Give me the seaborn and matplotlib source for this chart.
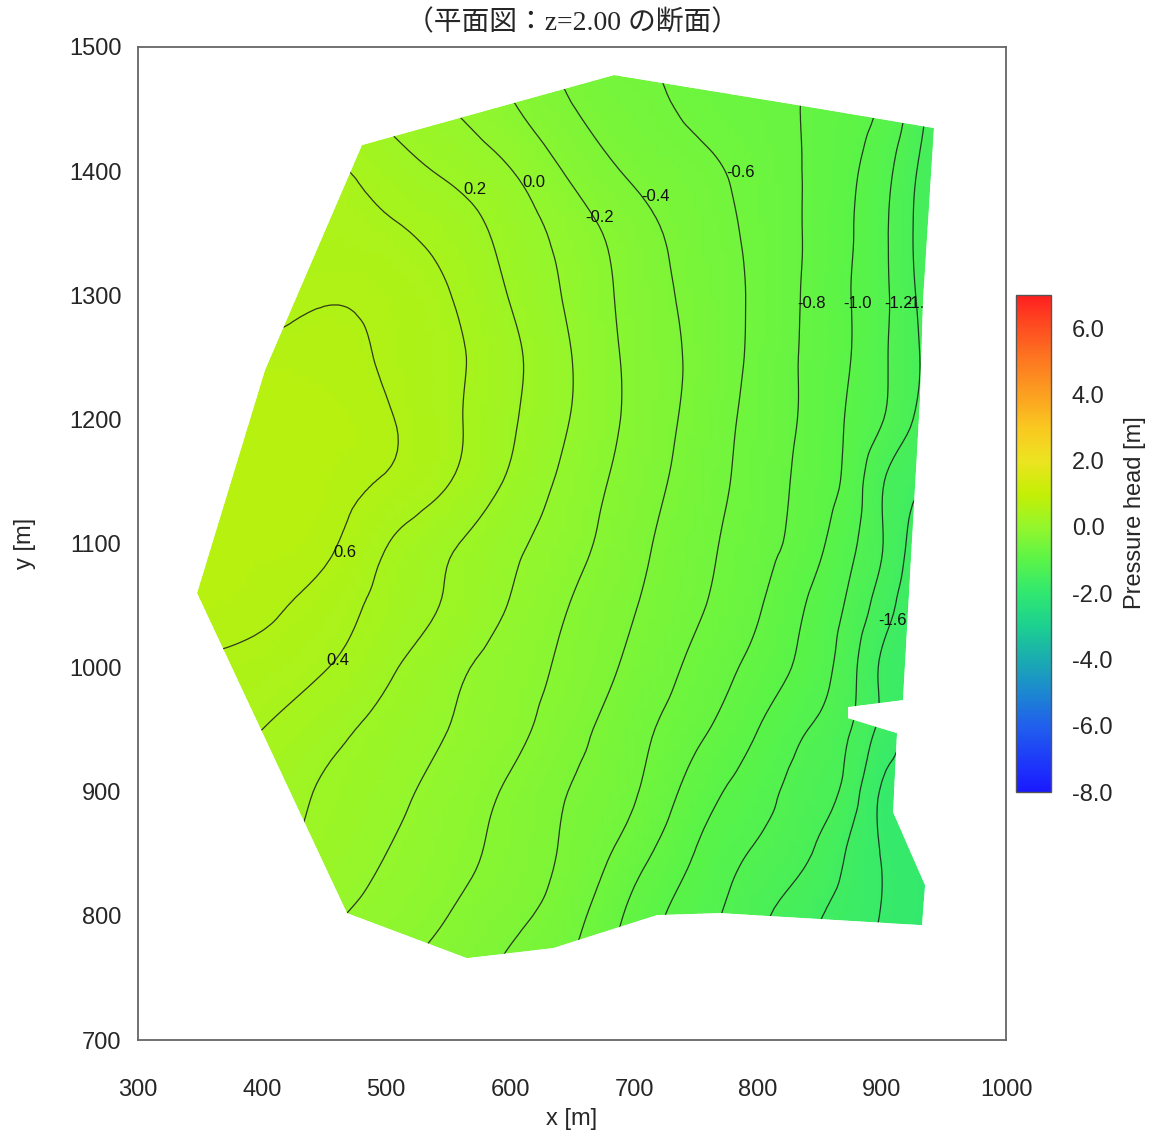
import numpy as np
import matplotlib
matplotlib.use("Agg")
import matplotlib.pyplot as plt
import matplotlib.tri as mtri
from matplotlib.patches import Polygon, PathPatch
from matplotlib.path import Path
from matplotlib.colors import Normalize
from matplotlib.cm import ScalarMappable
import seaborn as sns

# ---------------- data ----------------
# grid nodes [m]
x_nodes = [300, 350, 400, 450, 500, 550, 600, 650, 700, 750, 800, 850, 875, 900, 925, 950, 1000]
y_nodes = [1500, 1450, 1400, 1350, 1300, 1250, 1200, 1150, 1100, 1050, 1000, 950, 900, 850, 800, 750]

# pressure head [m] at the grid nodes, one row per y node (top to bottom)
head_y1500 = [0.38, 0.33, 0.26, 0.14, 0.03, -0.11, -0.26, -0.49, -0.61, -0.66, -0.75, -0.84, -0.92, -1.00, -1.25, -1.50, -1.70]
head_y1450 = [0.52, 0.50, 0.43, 0.29, 0.15, 0.01, -0.17, -0.39, -0.52, -0.64, -0.73, -0.85, -0.93, -1.03, -1.28, -1.55, -1.70]
head_y1400 = [0.52, 0.50, 0.47, 0.44, 0.31, 0.17, 0.01, -0.24, -0.43, -0.54, -0.68, -0.86, -0.97, -1.12, -1.37, -1.55, -1.70]
head_y1350 = [0.56, 0.55, 0.53, 0.50, 0.44, 0.32, 0.13, -0.09, -0.31, -0.49, -0.65, -0.87, -0.99, -1.15, -1.40, -1.55, -1.70]
head_y1300 = [0.52, 0.52, 0.54, 0.585, 0.55, 0.41, 0.19, -0.04, -0.27, -0.46, -0.64, -0.88, -1.00, -1.15, -1.38, -1.55, -1.70]
head_y1250 = [0.64, 0.64, 0.65, 0.65, 0.58, 0.45, 0.25, -0.00, -0.25, -0.44, -0.65, -0.88, -1.00, -1.16, -1.36, -1.52, -1.65]
head_y1200 = [0.70, 0.70, 0.70, 0.69, 0.62, 0.45, 0.23, -0.01, -0.25, -0.46, -0.67, -0.89, -1.03, -1.19, -1.40, -1.55, -1.65]
head_y1150 = [0.72, 0.72, 0.71, 0.68, 0.58, 0.41, 0.17, -0.07, -0.29, -0.49, -0.69, -0.91, -1.08, -1.38, -1.56, -1.65, -1.80]
head_y1100 = [0.70, 0.70, 0.68, 0.64, 0.41, 0.23, 0.05, -0.13, -0.34, -0.53, -0.72, -0.97, -1.16, -1.39, -1.65, -1.75, -1.90]
head_y1050 = [0.70, 0.68, 0.64, 0.52, 0.33, 0.18, -0.01, -0.21, -0.39, -0.57, -0.78, -1.07, -1.25, -1.50, -1.70, -1.80, -1.95]
head_y1000 = [0.60, 0.58, 0.52, 0.41, 0.24, 0.06, -0.10, -0.26, -0.45, -0.65, -0.87, -1.13, -1.34, -1.63, -1.75, -1.85, -2.00]
head_y950 = [0.52, 0.50, 0.40, 0.27, 0.13, -0.00, -0.14, -0.33, -0.53, -0.75, -1.00, -1.24, -1.40, -1.66, -1.82, -1.90, -2.00]
head_y900 = [0.42, 0.40, 0.30, 0.18, 0.06, -0.07, -0.23, -0.41, -0.58, -0.89, -1.12, -1.33, -1.50, -1.82, -1.88, -1.95, -2.05]
head_y850 = [0.32, 0.30, 0.25, 0.13, 0.00, -0.12, -0.27, -0.45, -0.71, -1.01, -1.23, -1.44, -1.64, -1.81, -1.90, -1.95, -2.05]
head_y800 = [0.22, 0.20, 0.12, 0.03, -0.07, -0.20, -0.35, -0.53, -0.86, -1.11, -1.35, -1.59, -1.70, -1.81, -1.90, -1.95, -2.05]
head_y750 = [0.12, 0.10, 0.05, -0.03, -0.17, -0.30, -0.45, -0.63, -0.90, -1.15, -1.40, -1.65, -1.75, -1.85, -1.92, -1.95, -2.05]

# outline of the model domain at z = 2.00 [m]
boundary_x = [480.6, 683.9, 836.3, 941.9, 933.1, 930.6, 916.9, 872.6, 872.6, 912.1,
              908.9, 934.7, 932.3, 769.4, 718.5, 634.7, 565.3, 468.5, 347.6, 402.4]
boundary_y = [1421.0, 1477.4, 1452.5, 1434.7, 1296.1, 1215.6, 973.8, 968.2, 959.3, 947.2,
              883.6, 824.7, 792.5, 802.2, 800.6, 774.0, 765.9, 802.2, 1060.0, 1239.7]

contour_levels = [-1.8, -1.6, -1.4, -1.2, -1.0, -0.8, -0.6, -0.4, -0.2, 0.0, 0.2, 0.4, 0.6]
labelled_levels = [0.6, 0.4, 0.2, 0.0, -0.2, -0.4, -0.6, -0.8, -1.0, -1.2, -1.4, -1.6]
cbar_ticks = [-8, -6, -4, -2, 0, 2, 4, 6]
vmin, vmax = -8.0, 7.0

# colour stops of the colour scale, one per metre from -8 to 7
scale_colors = ["#1a1aff", "#1e3cf8", "#2060ec", "#1c88d0", "#1aacb0", "#1cd090",
                "#30e870", "#5af448", "#94f62c", "#c4ef05", "#ece420", "#fac820",
                "#fca020", "#fd7a20", "#fe5020", "#ff2020"]

# label anchor points (layout only)
label_anchor = {0.6: (457.3, 1093.1), 0.4: (451.6, 1006.0), 0.2: (562.1, 1384.8),
                0.0: (609.7, 1391.2), -0.2: (660.5, 1363.0), -0.4: (705.6, 1379.9),
                -0.6: (774.2, 1398.5), -0.8: (831.5, 1293.7), -1.0: (868.5, 1293.7),
                -1.2: (901.6, 1293.7), -1.4: (919.0, 1293.7), -1.6: (896.8, 1038.3)}

# ---------------- style ----------------
sns.set_theme(style="white")
plt.rcParams["font.family"] = ["Liberation Sans", "DejaVu Sans"]

cmap = sns.blend_palette(scale_colors, n_colors=256, as_cmap=True)
norm = Normalize(vmin=vmin, vmax=vmax)

fig = plt.figure(figsize=(11.5, 11.35), dpi=100)
ax = fig.add_axes([0.12, 0.0837, 0.7548, 0.8749])
ax.set_xlim(300, 1000)
ax.set_ylim(700, 1500)

head = np.array([head_y1500, head_y1450, head_y1400, head_y1350, head_y1300, head_y1250,
                 head_y1200, head_y1150, head_y1100, head_y1050, head_y1000, head_y950,
                 head_y900, head_y850, head_y800, head_y750])
X, Y = np.meshgrid(np.array(x_nodes, float), np.array(y_nodes, float))
tri = mtri.Triangulation(X.ravel(), Y.ravel())
refiner = mtri.UniformTriRefiner(tri)
tri_f, head_f = refiner.refine_field(head.ravel(), subdiv=3)

dom_xy = np.column_stack([boundary_x, boundary_y])
domain = Polygon(dom_xy, closed=True, facecolor="none", edgecolor="none",
                 transform=ax.transData)
ax.add_patch(domain)

shade = ax.tripcolor(tri_f, head_f, cmap=cmap, norm=norm, shading="gouraud")
shade.set_clip_path(domain)

lines = ax.tricontour(tri_f, head_f, levels=contour_levels, colors="#1a1a1a",
                      linewidths=0.9, alpha=0.85, linestyles="solid")
lines.set_clip_path(domain)

for lvl in labelled_levels:
    lx, ly = label_anchor[lvl]
    ax.text(lx, ly, f"{lvl:.1f}", ha="left", va="center", fontsize=12,
            color="#111111", zorder=3)

# white mask outside the model domain (keeps labels inside the outline)
xl, xh = ax.get_xlim()
yl, yh = ax.get_ylim()
outer = [(xl, yl), (xh, yl), (xh, yh), (xl, yh), (xl, yl)]
inner = dom_xy.copy()
area = 0.5 * np.sum(inner[:, 0] * np.roll(inner[:, 1], -1) - np.roll(inner[:, 0], -1) * inner[:, 1])
if area > 0:
    inner = inner[::-1]
inner_list = [tuple(p) for p in inner] + [tuple(inner[0])]
verts = outer + inner_list
codes = ([Path.MOVETO] + [Path.LINETO] * 3 + [Path.CLOSEPOLY]
         + [Path.MOVETO] + [Path.LINETO] * (len(inner_list) - 2) + [Path.CLOSEPOLY])
ax.add_patch(PathPatch(Path(verts, codes), facecolor="white", edgecolor="none", zorder=3.5))

ax.set_xticks(range(300, 1001, 100))
ax.set_yticks(range(700, 1501, 100))
ax.tick_params(axis="both", length=0, labelsize=17)
ax.tick_params(axis="x", pad=28)
ax.tick_params(axis="y", pad=12)
ax.set_xlabel("x [m]", fontsize=17, labelpad=5)
ax.set_ylabel("y [m]", fontsize=17, labelpad=24)
for sp in ax.spines.values():
    sp.set_color("#666666")
    sp.set_linewidth(1.3)
    sp.set_zorder(5)
ax.set_title("（平面図：z=2.00 の断面）", fontsize=20, pad=12,
             family=["Liberation Serif", "Noto Sans CJK JP"])

cax = fig.add_axes([0.8835, 0.3022, 0.0304, 0.4379])
cb = fig.colorbar(ScalarMappable(norm=norm, cmap=cmap), cax=cax, ticks=cbar_ticks,
                  format="%.1f")
cb.outline.set_edgecolor("#555555")
cb.outline.set_linewidth(1.0)
cax.tick_params(length=0, pad=15, labelsize=17)
cb.set_label("Pressure head [m]", fontsize=17)
cax.yaxis.set_label_coords(3.1, 0.563)

fig.savefig("out.png", dpi=100)
